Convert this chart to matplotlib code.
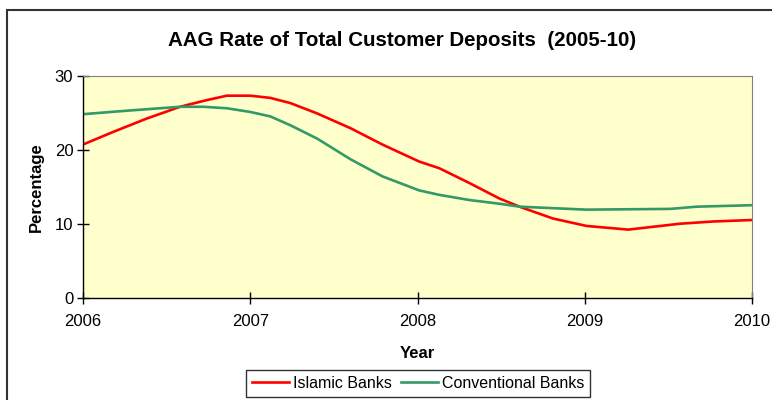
#!/usr/bin/env python

"""
Average annual growth rate of total customer deposits, Islamic vs conventional banks.
"""

import matplotlib
matplotlib.use("Agg")
import matplotlib.pyplot as plt
from matplotlib.patches import Rectangle

plt.rcParams['font.family'] = ['Liberation Sans', 'DejaVu Sans']

# Read-off points (year, %) for each series
islamic_years = [2006.00, 2006.18, 2006.38, 2006.58, 2006.74, 2006.86, 2007.00,
                 2007.12, 2007.24, 2007.40, 2007.60, 2007.79, 2008.01, 2008.13,
                 2008.31, 2008.49, 2008.61, 2008.81, 2009.01, 2009.26, 2009.57,
                 2009.77, 2010.00]
islamic_rate = [20.7, 22.4, 24.2, 25.8, 26.7, 27.3, 27.3,
                27.0, 26.3, 24.9, 22.9, 20.7, 18.4, 17.5,
                15.5, 13.4, 12.3, 10.7, 9.7, 9.2, 10.0,
                10.3, 10.5]

conventional_years = [2006.00, 2006.28, 2006.58, 2006.72, 2006.86, 2007.00, 2007.12,
                      2007.24, 2007.40, 2007.60, 2007.79, 2008.01, 2008.13, 2008.31,
                      2008.49, 2008.61, 2008.81, 2009.01, 2009.51, 2009.67, 2010.00]
conventional_rate = [24.8, 25.3, 25.8, 25.8, 25.6, 25.1, 24.5,
                     23.3, 21.5, 18.7, 16.4, 14.5, 13.9, 13.2,
                     12.7, 12.3, 12.1, 11.9, 12.0, 12.3, 12.5]

year_ticks = [2006, 2007, 2008, 2009, 2010]
pct_ticks = [0, 10, 20, 30]

fig = plt.figure(figsize=(7.72, 4.00), dpi=100)
ax = fig.add_axes([83 / 772, 102.3 / 400, 669 / 772, 222 / 400])
ax.set_facecolor('#FFFFCC')

# Outer chart frame, runs off the right and bottom edges
fig.patches.append(Rectangle((7 / 772, -0.05), 1.0, 0.05 + 390 / 400,
                             transform=fig.transFigure, fill=False,
                             edgecolor='#333333', linewidth=1.5, clip_on=False))

ax.plot(islamic_years, islamic_rate, color='#FF0000', lw=1.9,
        solid_joinstyle='round', label='Islamic Banks')
ax.plot(conventional_years, conventional_rate, color='#339966', lw=1.9,
        solid_joinstyle='round', label='Conventional Banks')

ax.set_xlim(2006, 2010)
ax.set_ylim(0, 30)
ax.set_xticks(year_ticks)
ax.set_xticklabels([str(y) for y in year_ticks])
ax.set_yticks(pct_ticks)

for side in ('top', 'right'):
    ax.spines[side].set_color('#808080')
    ax.spines[side].set_linewidth(0.8)
for side in ('left', 'bottom'):
    ax.spines[side].set_color('black')
    ax.spines[side].set_linewidth(1.0)

ax.tick_params(axis='both', direction='inout', length=8, width=1.0,
               labelsize=12, colors='black')
ax.tick_params(axis='x', pad=8)
ax.tick_params(axis='y', pad=3)

ax.set_xlabel('Year', fontsize=12, fontweight='bold', labelpad=12)
ax.set_ylabel('Percentage', fontsize=12, fontweight='bold', labelpad=8)

fig.text(402 / 772, 1 - 40 / 400, 'AAG Rate of Total Customer Deposits  (2005-10)',
         ha='center', va='center', fontsize=14.8, fontweight='bold')

leg = fig.legend(loc='center', bbox_to_anchor=(418 / 772, 1 - 383.5 / 400), ncol=2,
                 fontsize=11.5, frameon=True, fancybox=False, handlelength=2.3,
                 handletextpad=0.25, columnspacing=0.6, borderpad=0.35,
                 borderaxespad=0.0)
leg.get_frame().set_edgecolor('black')
leg.get_frame().set_linewidth(1.0)

fig.savefig('out.png', dpi=100, facecolor='white')
plt.close(fig)
